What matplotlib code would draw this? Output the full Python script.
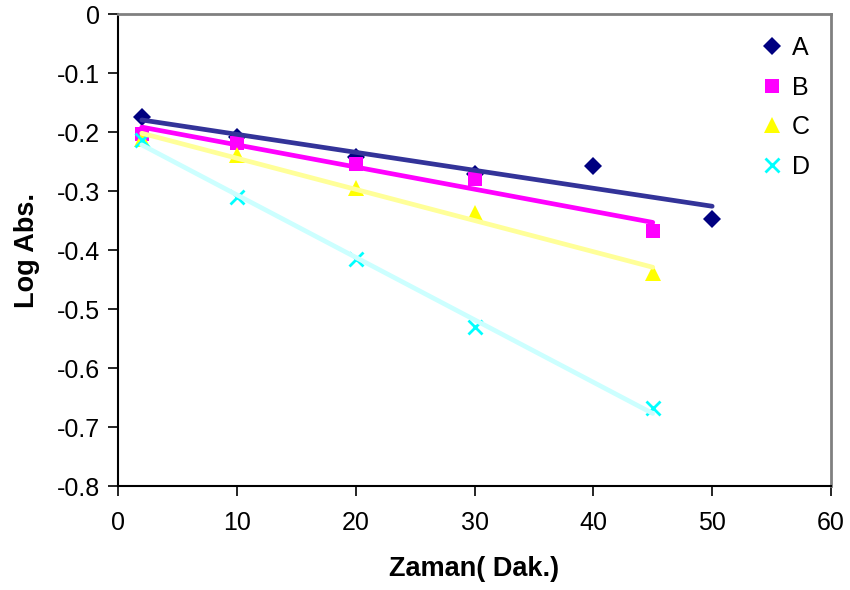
"""Log Abs. vs time with linear trendlines (Excel style)."""

import matplotlib.pyplot as plt
import numpy as np

plt.rcParams["font.family"] = ["Liberation Sans", "DejaVu Sans"]

x_a = [2, 10, 20, 30, 40, 50]
y_a = [-0.175, -0.209, -0.243, -0.272, -0.257, -0.348]

x_b = [2, 10, 20, 30, 45]
y_b = [-0.203, -0.219, -0.254, -0.280, -0.367]

x_c = [2, 10, 20, 30, 45]
y_c = [-0.212, -0.239, -0.295, -0.338, -0.439]

x_d = [2, 10, 20, 30, 45]
y_d = [-0.213, -0.310, -0.415, -0.531, -0.667]

series = [
    ("A", x_a, y_a, "D", "#000080", "#333399", 9),
    ("B", x_b, y_b, "s", "#FF00FF", "#FF00FF", 10),
    ("C", x_c, y_c, "^", "#FFFF00", "#FFFF99", 11),
    ("D", x_d, y_d, "x", "#00FFFF", "#CCFFFF", 10),
]


def main() -> None:
    fig = plt.figure(figsize=(8.5, 5.9), dpi=100)
    ax = fig.add_axes([118 / 850, 104 / 590, 713 / 850, 472 / 590])

    for name, xs, ys, mk, mcol, lcol, ms in series:
        ax.plot(xs, ys, linestyle="none", marker=mk, color=mcol,
                markersize=ms, markeredgewidth=2 if mk == "x" else 0,
                label=name, zorder=2, clip_on=False)
        k, b = np.polyfit(xs, ys, 1)
        xl = np.array([xs[0], xs[-1]])
        ax.plot(xl, k * xl + b, color=lcol, lw=3.4, zorder=3,
                solid_capstyle="round")

    ax.set_xlim(0, 60)
    ax.set_ylim(-0.8, 0)
    ax.set_xticks(range(0, 61, 10))
    ax.set_yticks(np.arange(-0.8, 0.01, 0.1))
    ax.set_yticklabels(["-0.8", "-0.7", "-0.6", "-0.5", "-0.4",
                        "-0.3", "-0.2", "-0.1", "0"])
    ax.tick_params(labelsize=18, length=7, width=1.2, direction="out",
                   color="black")
    ax.tick_params(axis="x", pad=11)
    ax.tick_params(axis="y", pad=6)

    for side in ("left", "bottom"):
        ax.spines[side].set_color("black")
        ax.spines[side].set_linewidth(1.5)
    for side in ("top", "right"):
        ax.spines[side].set_color("#808080")
        ax.spines[side].set_linewidth(2)

    ax.set_xlabel("Zaman( Dak.)", fontsize=19.5, fontweight="bold", labelpad=15)
    ax.set_ylabel("Log Abs.", fontsize=19.5, fontweight="bold", labelpad=12)

    ax.legend(loc="upper right", bbox_to_anchor=(0.995, 0.99), frameon=False,
              fontsize=18, handletextpad=0.35, labelspacing=0.62,
              handlelength=0.9, borderaxespad=0.3)

    fig.savefig("out.png", dpi=100)


if __name__ == "__main__":
    main()
